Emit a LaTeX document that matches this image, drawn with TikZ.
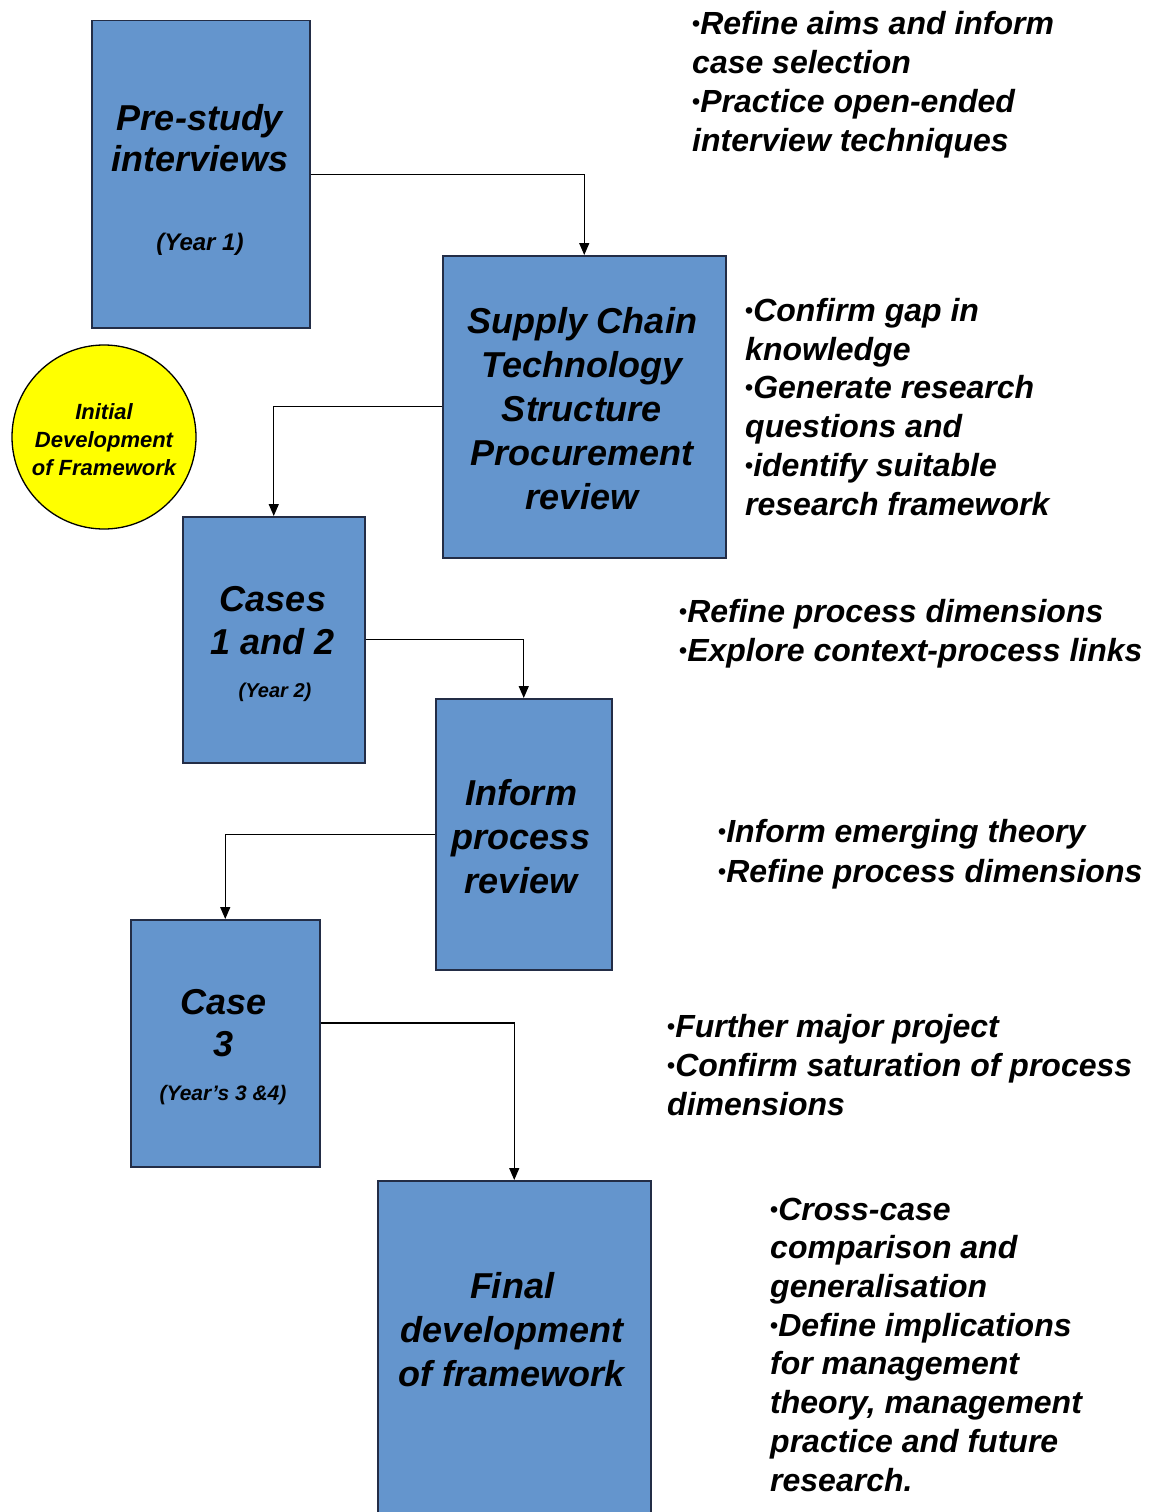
\documentclass[tikz,border=0pt]{standalone}
\usepackage{fontspec}
\setmainfont{Liberation Sans}
\usetikzlibrary{arrows.meta,calc}
\definecolor{boxblue}{RGB}{100,149,205}
\definecolor{boxline}{RGB}{35,45,70}
\definecolor{circyellow}{RGB}{255,255,0}
\newcommand{\bulx}{{\upshape\fontsize{23}{23}\selectfont\raisebox{3pt}{•}}}
\begin{document}
\begin{tikzpicture}[x=1pt,y=-1pt,
  stagebox/.style={draw=boxline,line width=1.5pt,fill=boxblue,rectangle,anchor=north west,inner sep=0pt},
  boxtext/.style={anchor=base,align=center,inner sep=0pt,font=\fontsize{36}{44}\selectfont\bfseries\itshape},
  yeartext/.style={anchor=base,align=center,inner sep=0pt},
  notetext/.style={anchor=base west,align=left,inner sep=0pt,font=\fontsize{32}{38.7}\selectfont\bfseries\itshape},
  arr/.style={draw=black,line width=1.4pt,-{Triangle[length=12pt,width=10pt]}}
]
\useasboundingbox (0,0) rectangle (1158,1512);
\clip (0,0) rectangle (1158,1512);
\fill[white] (0,0) rectangle (1158,1512);

% boxes
\node[stagebox,minimum width=218pt,minimum height=307pt] (b1) at (91,20) {};
\node[stagebox,minimum width=283pt,minimum height=302pt] (b2) at (442,255) {};
\node[stagebox,minimum width=182pt,minimum height=246pt] (b3) at (182,516) {};
\node[stagebox,minimum width=176pt,minimum height=271pt] (b4) at (435,698) {};
\node[stagebox,minimum width=189pt,minimum height=247pt] (b5) at (130,919) {};
\node[stagebox,minimum width=273pt,minimum height=360pt] (b6) at (377,1180) {};

% circle
\node[circle,draw=black,line width=1.3pt,fill=circyellow,minimum size=184pt,inner sep=0pt] (c1) at (104,437) {};
\node[anchor=base,align=center,inner sep=0pt,font=\fontsize{22}{28}\selectfont\bfseries\itshape] (c1t) at (104,475) {Initial\\Development\\of Framework};

% box texts (anchor = baseline of last line)
\node[boxtext,font=\fontsize{36}{41}\selectfont\bfseries\itshape] (b1t) at (200,171) {Pre-study\\interviews};
\node[yeartext,font=\fontsize{24}{28}\selectfont\bfseries\itshape] (b1y) at (200,250) {(Year 1)};
\node[boxtext] (b2t) at (582,509) {Supply Chain\\Technology\\Structure\\Procurement\\review};
\node[boxtext,font=\fontsize{36}{43}\selectfont\bfseries\itshape] (b3t) at (273,654) {Cases\\1 and 2};
\node[yeartext,font=\fontsize{20}{26}\selectfont\bfseries\itshape] (b3y) at (275,697) {(Year 2)};
\node[boxtext] (b4t) at (521,893) {Inform\\process\\review};
\node[boxtext,font=\fontsize{36}{42}\selectfont\bfseries\itshape] (b5t) at (224,1056) {Case\\3};
\node[yeartext,font=\fontsize{21}{26}\selectfont\bfseries\itshape] (b5y) at (223,1100) {(Year's 3 \&4)};
\node[boxtext] (b6t) at (512,1386) {Final\\development\\of framework};

% notes (anchor = baseline of last line)
\node[notetext] (n1) at (692,151) {\bulx Refine aims and inform\\case selection\\\bulx Practice open-ended\\interview techniques};
\node[notetext] (n2) at (745,515) {\bulx Confirm gap in\\knowledge\\\bulx Generate research\\questions and\\\bulx identify suitable\\research framework};
\node[notetext] (n3) at (679,661) {\bulx Refine process dimensions\\\bulx Explore context-process links};
\node[notetext,font=\fontsize{32}{40}\selectfont\bfseries\itshape] (n4) at (718,882) {\bulx Inform emerging theory\\\bulx Refine process dimensions};
\node[notetext] (n5) at (667,1115) {\bulx Further major project\\\bulx Confirm saturation of process\\dimensions};
\node[notetext] (n6) at (770,1491) {\bulx Cross-case\\comparison and\\generalisation\\\bulx Define implications\\for management\\theory, management\\practice and future\\research.};

% connectors
\draw[arr] (b1.east) -| (b2.north);
\draw[arr] (b2.west) -| (b3.north);
\draw[arr] (b3.east) -| (b4.north);
\draw[arr] (b4.west) -| (b5.north);
\coordinate (b5out) at ($(b5.north east)+(0,104)$);
\draw[arr] (b5out) -| (b6.north);
\end{tikzpicture}
\end{document}
